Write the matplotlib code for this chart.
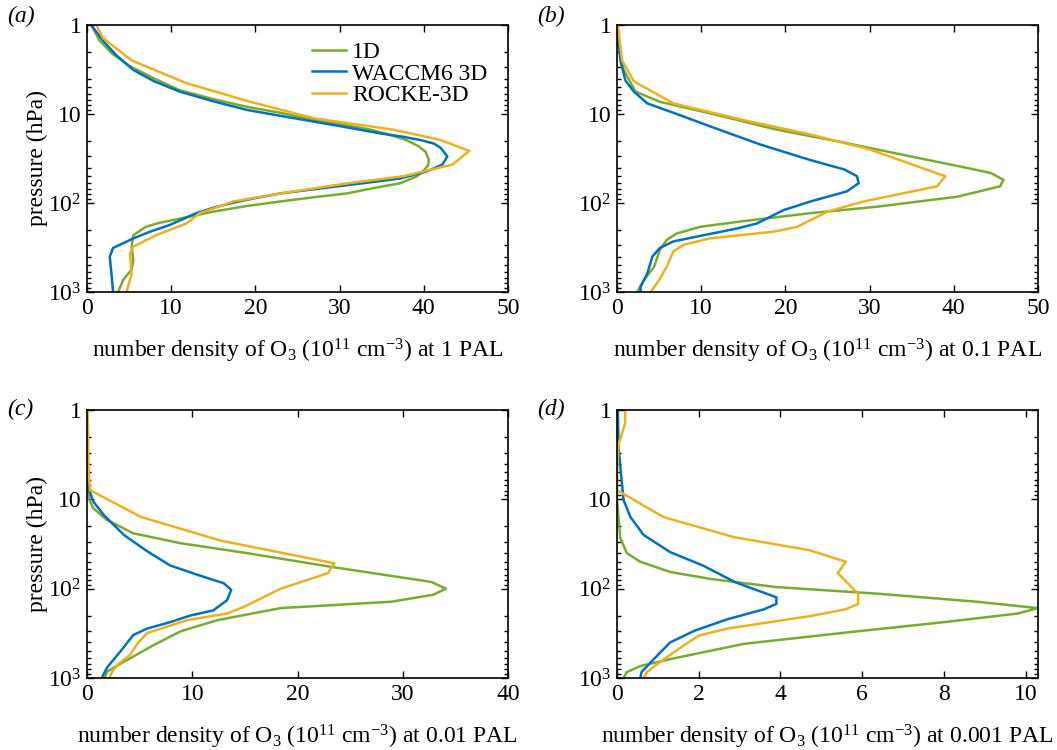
import matplotlib
matplotlib.use("Agg")
import matplotlib.pyplot as plt
from matplotlib.ticker import FixedLocator, LogLocator, NullFormatter

plt.rcParams["font.family"] = ["Liberation Serif", "DejaVu Serif"]
plt.rcParams["mathtext.fontset"] = "custom"
plt.rcParams["mathtext.rm"] = "Liberation Serif"
plt.rcParams["mathtext.it"] = "Liberation Serif:italic"
plt.rcParams["font.size"] = 17

series_names = ["1D", "WACCM6 3D", "ROCKE-3D"]
series_colors = ["#77AC30", "#0072BD", "#EDB120"]

# panel (a): 1 PAL
a_1d_x = [0.5, 1.5, 3.0, 5.1, 8.0, 11, 15, 19, 23, 27, 30.5, 33.7, 36, 37.9, 39.3, 40.2, 40.6, 40.5, 39.9, 39.2, 37.2, 34, 30.9, 27, 23, 19, 15, 11, 8.5, 7, 5.5, 5.3, 5.5, 5.3, 4.3, 3.7]
a_1d_p = [1, 1.5, 2.1, 2.9, 4.0, 5.4, 6.8, 8.3, 9.7, 11.7, 13.2, 15, 17.2, 19.6, 22.8, 26.5, 32.7, 38, 44, 50, 60, 68, 78, 86, 96, 108, 125, 150, 168, 185, 230, 310, 435, 560, 730, 1000]
a_wa_x = [0.5, 1.9, 3.5, 5.5, 8.0, 11, 15, 19, 23, 27, 31, 34.8, 37.5, 39.6, 41.2, 42, 42.8, 42.2, 40.4, 37.2, 34, 30.9, 27, 23, 20, 17.4, 15, 13, 11.5, 9.8, 7.5, 5.5, 3.1, 2.7, 2.9, 3.1]
a_wa_p = [1, 1.5, 2.2, 3.2, 4.3, 5.6, 7.2, 9, 10.5, 12.2, 14.2, 16.5, 18, 19.6, 21.5, 24, 30, 37, 44, 53, 58, 63, 70, 78, 88, 99, 113, 130, 150, 177, 210, 250, 320, 400, 620, 1000]
a_ro_x = [1.1, 1.9, 5.3, 11.8, 19.4, 27, 36.4, 42, 45.4, 43.4, 37.6, 31, 23, 17.4, 13.4, 11.8, 8.2, 5.5, 5.1, 5.3, 4.7]
a_ro_p = [1, 1.4, 2.5, 4.5, 7.3, 11.2, 15, 19.6, 26, 37, 50, 60, 78, 96, 130, 170, 230, 310, 370, 620, 1000]

# panel (b): 0.1 PAL
b_1d_x = [0, 0.2, 0.8, 2.2, 5.1, 11, 19, 27, 34.9, 40.8, 44.4, 45.9, 45.5, 40.4, 30.9, 23, 15, 9.9, 7.1, 5.9, 5.1, 4.4, 3.2, 2.4]
b_1d_p = [1, 1.75, 3.2, 5.6, 7.3, 9.8, 15, 21, 30, 39, 46, 55, 65, 85, 110, 130, 160, 185, 220, 260, 335, 520, 735, 1000]
b_wa_x = [0, 0.4, 1, 2, 3.6, 7.1, 11, 17, 23, 27, 28.5, 28.7, 27.3, 23, 19.8, 16.6, 14.3, 10.3, 6.7, 5.1, 4.2, 3.6, 2.8, 2.8]
b_wa_p = [1, 2.5, 4.2, 5.6, 7.6, 10, 13.7, 22, 33, 42, 50, 60, 74, 96, 120, 170, 193, 230, 270, 320, 400, 620, 870, 1000]
b_ro_x = [0.1, 0.6, 2, 6.7, 15, 23, 30, 39, 38, 29.3, 25, 21.4, 18.6, 11, 7.9, 6.7, 5.9, 5, 4]
b_ro_p = [1, 2.5, 4.3, 7.6, 11.7, 17, 25, 50, 65, 96, 125, 185, 210, 250, 295, 350, 520, 735, 1000]

# panel (c): 0.01 PAL
c_1d_x = [0, 0, 0.2, 0.6, 1.9, 4.4, 8.9, 15.2, 23.2, 32.7, 34.1, 32.9, 28.9, 18.4, 12.4, 8.9, 6.3, 3.2, 1.9, 1.7]
c_1d_p = [1, 5, 10, 12.6, 17, 24, 31, 40, 57, 84, 100, 117, 140, 165, 225, 300, 430, 690, 850, 1000]
c_wa_x = [0, 0.06, 0.6, 1.6, 3.5, 5.7, 7.9, 10.5, 13, 13.7, 13.3, 12, 9.8, 7.9, 5.7, 4.4, 3.2, 1.9, 1.4]
c_wa_p = [1, 7, 10.6, 15, 25, 38, 55, 70, 87, 103, 135, 175, 200, 237, 280, 330, 500, 765, 1000]
c_ro_x = [0.06, 0.16, 0.3, 5.1, 12.7, 23.5, 22.9, 18.4, 14.9, 13.3, 9.5, 5.7, 4.8, 4.1, 3, 2.4, 2.1]
c_ro_p = [1, 5, 7.9, 15.7, 29, 52, 67, 100, 160, 190, 225, 315, 410, 550, 690, 850, 1000]

# panel (d): 0.001 PAL
d_1d_x = [0, 0, 0.08, 0.24, 0.57, 1.3, 2.3, 3.9, 6.4, 8.8, 10.3, 9.8, 8, 5.6, 3.1, 1.3, 0.57, 0.24, 0.16]
d_1d_p = [1, 10, 27, 40, 50, 65, 78, 96, 114, 140, 165, 190, 237, 310, 415, 615, 735, 860, 1000]
d_wa_x = [0.02, 0.04, 0.16, 0.33, 0.65, 1.3, 2.1, 2.9, 3.9, 3.9, 3.6, 2.7, 1.9, 1.3, 0.9, 0.6, 0.57]
d_wa_p = [1, 2.7, 10.2, 15.8, 25, 39, 55, 85, 125, 148, 170, 220, 295, 400, 615, 860, 1000]
d_ro_x = [0.2, 0.2, 0.04, 0, 0, 1.14, 2.86, 4.7, 5.6, 5.4, 5.9, 5.9, 5.6, 4.8, 2.7, 2.0, 1.5, 1.0, 0.73, 0.65]
d_ro_p = [1, 1.4, 2.4, 5, 7.9, 15.8, 26.5, 37, 50, 67, 114, 148, 170, 200, 280, 335, 475, 690, 860, 1000]

panel_tags = ["(a)", "(b)", "(c)", "(d)"]
pal_labels = ["1", "0.1", "0.01", "0.001"]
x_limits = [50, 50, 40, 10.3]
x_ticks = [[0, 10, 20, 30, 40, 50], [0, 10, 20, 30, 40, 50], [0, 10, 20, 30, 40], [0, 2, 4, 6, 8, 10]]
y_ticks = [1, 10, 100, 1000]
y_ticklabels = ["1", "10", r"$10^2$", r"$10^3$"]

panel_data = [
    [(a_1d_x, a_1d_p), (a_wa_x, a_wa_p), (a_ro_x, a_ro_p)],
    [(b_1d_x, b_1d_p), (b_wa_x, b_wa_p), (b_ro_x, b_ro_p)],
    [(c_1d_x, c_1d_p), (c_wa_x, c_wa_p), (c_ro_x, c_ro_p)],
    [(d_1d_x, d_1d_p), (d_wa_x, d_wa_p), (d_ro_x, d_ro_p)],
]

W, H = 1057, 750
fig = plt.figure(figsize=(W / 100, H / 100), dpi=100)

# axes boxes in pixels: left, top, right, bottom
boxes = [(87, 25, 508, 292), (617, 25, 1038, 292), (87, 410, 508, 678), (617, 410, 1038, 678)]
tag_pos = [(7, 16), (537, 16), (7, 409), (537, 409)]

for i, (l, t, r, b) in enumerate(boxes):
    ax = fig.add_axes([l / W, 1 - b / H, (r - l) / W, (b - t) / H])
    for (x, p), name, color in zip(panel_data[i], series_names, series_colors):
        ax.plot(x, p, color=color, lw=1.8, label=name)
    ax.set_yscale("log")
    ax.set_ylim(1000, 1)
    ax.set_xlim(0, x_limits[i])
    ax.set_xticks(x_ticks[i])
    ax.yaxis.set_major_locator(FixedLocator(y_ticks))
    ax.set_yticklabels(y_ticklabels)
    ax.yaxis.set_minor_locator(LogLocator(base=10, subs=range(2, 10)))
    ax.yaxis.set_minor_formatter(NullFormatter())
    ax.tick_params(which="both", direction="in", top=True, right=True, width=1.0)
    ax.tick_params(which="major", length=5, labelsize=17, pad=4)
    ax.tick_params(which="minor", length=3)
    for sp in ax.spines.values():
        sp.set_linewidth(1.2)
    ax.set_xlabel("number density of O$_3$ (10$^{11}$ cm$^{-3}$) at " + pal_labels[i] + " PAL",
                  fontsize=17, labelpad=13)
    if i % 2 == 0:
        ax.set_ylabel("pressure (hPa)", fontsize=17, labelpad=0)
    if i == 0:
        ax.legend(loc="upper right", frameon=False, fontsize=17, handlelength=1.45,
                  labelspacing=0.0, handletextpad=0.25, borderaxespad=0.3,
                  bbox_to_anchor=(0.99, 1.0))
    fig.text(tag_pos[i][0] / W, 1 - tag_pos[i][1] / H, panel_tags[i],
             fontsize=17, style="italic", va="center", ha="left")

fig.savefig("out.png", dpi=100)
